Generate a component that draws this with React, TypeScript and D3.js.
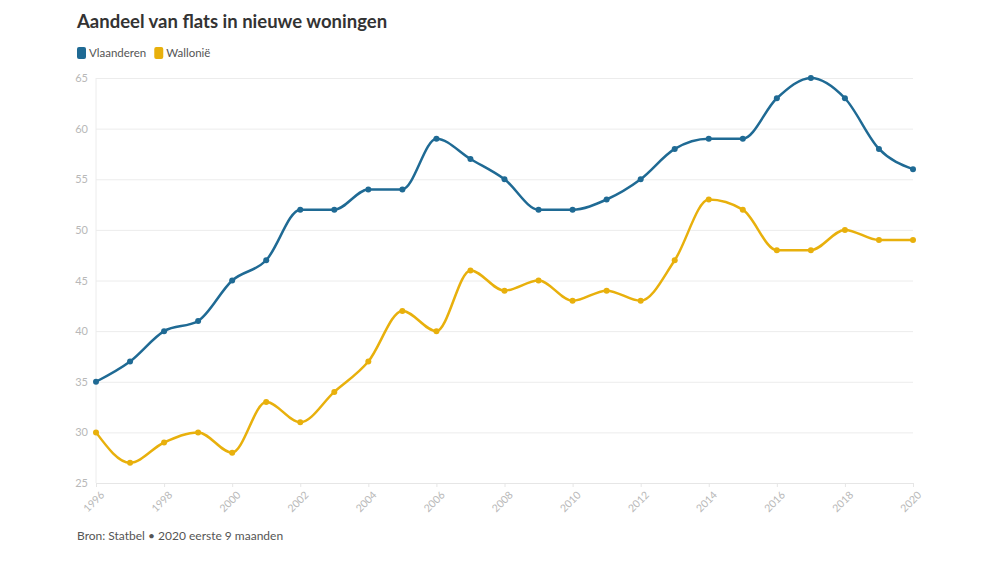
import { useEffect, useRef } from 'react';
import * as d3 from 'd3';

const years = [1996, 1997, 1998, 1999, 2000, 2001, 2002, 2003, 2004, 2005, 2006, 2007, 2008, 2009, 2010, 2011, 2012, 2013, 2014, 2015, 2016, 2017, 2018, 2019, 2020];
const vlaanderen = [35, 37, 40, 41, 45, 47, 52, 52, 54, 54, 59, 57, 55, 52, 52, 53, 55, 58, 59, 59, 63, 65, 63, 58, 56];
const wallonie = [30, 27, 29, 30, 28, 33, 31, 34, 37, 42, 40, 46, 44, 45, 43, 44, 43, 47, 53, 52, 48, 48, 50, 49, 49];
const yTicks = [25, 30, 35, 40, 45, 50, 55, 60, 65];
const xTicks = [1996, 1998, 2000, 2002, 2004, 2006, 2008, 2010, 2012, 2014, 2016, 2018, 2020];

const series = [
  { name: 'Vlaanderen', values: vlaanderen, color: '#1f6a94' },
  { name: 'Wallonië', values: wallonie, color: '#e8b00c' },
];

const FONT = '"Source Sans Pro", Lato, "Open Sans", sans-serif';

export default function App() {
  const svgRef = useRef<SVGSVGElement>(null);

  useEffect(() => {
    if (!svgRef.current) return;
    const svg = d3.select(svgRef.current);
    svg.selectAll('*').remove();

    const margin = { top: 78, right: 87, bottom: 80, left: 96 };
    const width = 1000;
    const height = 563;
    const innerW = width - margin.left - margin.right;
    const innerH = height - margin.top - margin.bottom;

    const x = d3.scaleLinear().domain([1996, 2020]).range([0, innerW]);
    const y = d3.scaleLinear().domain([25, 65]).range([innerH, 0]);

    svg.append('rect').attr('width', width).attr('height', height).attr('fill', '#fff');

    // title
    svg.append('text')
      .attr('x', 77).attr('y', 28)
      .style('font-family', FONT).style('font-size', '18.5px').style('font-weight', '700')
      .attr('fill', '#333')
      .text('Aandeel van flats in nieuwe woningen');

    // legend
    let lx = 77;
    series.forEach(s => {
      svg.append('rect').attr('x', lx).attr('y', 47).attr('width', 9).attr('height', 12)
        .attr('rx', 2).attr('fill', s.color);
      const t = svg.append('text').attr('x', lx + 12).attr('y', 57)
        .style('font-family', FONT).style('font-size', '11.5px').attr('fill', '#555')
        .text(s.name);
      lx += 12 + (t.node() as SVGTextElement).getComputedTextLength() + 8;
    });

    const g = svg.append('g').attr('transform', `translate(${margin.left},${margin.top})`);

    // grid
    const yAxis = g.append('g').call(d3.axisLeft(y).tickValues(yTicks).tickSize(-innerW).tickPadding(8));
    yAxis.select('.domain').remove();
    yAxis.selectAll('.tick line').attr('stroke', '#ececec');
    yAxis.selectAll('.tick text').attr('fill', '#b8b8b8').style('font-family', FONT).style('font-size', '11px');

    g.append('line').attr('x1', 0).attr('x2', 0).attr('y1', 0).attr('y2', innerH).attr('stroke', '#ececec');

    const xAxis = g.append('g').attr('transform', `translate(0,${innerH})`)
      .call(d3.axisBottom(x).tickValues(xTicks).tickFormat(d3.format('d')).tickSize(4));
    xAxis.select('.domain').attr('stroke', '#e6e6e6');
    xAxis.selectAll('.tick line').attr('stroke', '#e6e6e6');
    xAxis.selectAll('.tick text')
      .attr('fill', '#b8b8b8').style('font-family', FONT).style('font-size', '10.5px')
      .attr('text-anchor', 'end').attr('x', 0).attr('y', 0).attr('dx', 0).attr('dy', '0.35em')
      .attr('transform', 'translate(6,10) rotate(-45)');

    const line = d3.line<number>()
      .x((_, i) => x(years[i]))
      .y(d => y(d))
      .curve(d3.curveMonotoneX);

    series.forEach(s => {
      g.append('path').datum(s.values).attr('d', line).attr('fill', 'none')
        .attr('stroke', s.color).attr('stroke-width', 2.5);
      g.selectAll(null).data(s.values).enter().append('circle')
        .attr('cx', (_, i) => x(years[i])).attr('cy', d => y(d)).attr('r', 3)
        .attr('fill', s.color);
    });

    svg.append('text')
      .attr('x', 77).attr('y', 540)
      .style('font-family', FONT).style('font-size', '12px').attr('fill', '#555')
      .text('Bron: Statbel • 2020 eerste 9 maanden');
  }, []);

  return (
    <div style={{ position: 'fixed', left: 0, top: 0 }}>
      <svg ref={svgRef} width={1000} height={563} style={{ display: 'block' }} />
    </div>
  );
}
